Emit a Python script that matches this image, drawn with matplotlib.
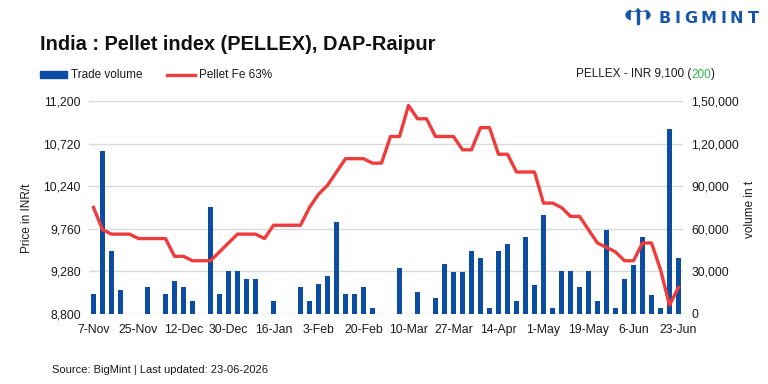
import matplotlib
matplotlib.use("Agg")
import matplotlib.pyplot as plt
from matplotlib.patches import Circle, Rectangle
from matplotlib.lines import Line2D

plt.rcParams['font.family'] = ['Liberation Sans', 'DejaVu Sans']

tick_labels = ["7-Nov", "25-Nov", "12-Dec", "30-Dec", "16-Jan", "3-Feb", "20-Feb",
               "10-Mar", "27-Mar", "14-Apr", "1-May", "19-May", "6-Jun", "23-Jun"]

volume = [14000, 115000, 44500, 17000, 0, 0, 19000, 0, 14000, 23300,
          19000, 9200, 0, 75600, 14000, 30000, 30000, 24700, 24700, 0,
          9200, 0, 0, 19000, 9200, 21200, 26800, 65000, 14000, 14000,
          19000, 4200, 0, 0, 32500, 0, 15500, 0, 11300, 35300,
          29700, 29700, 44500, 39600, 4200, 44500, 49500, 9200, 54400, 20500,
          70000, 4200, 30000, 30000, 19000, 30000, 9200, 59300, 4200, 24700,
          34600, 54400, 13400, 4200, 130000, 39600]

price = [10000, 9750, 9700, 9700, 9700, 9650, 9650, 9650, 9650, 9450,
         9450, 9400, 9400, 9400, 9500, 9600, 9700, 9700, 9700, 9650,
         9800, 9800, 9800, 9800, 10000, 10150, 10250, 10400, 10550, 10550,
         10550, 10500, 10500, 10800, 10800, 11150, 11000, 11000, 10800, 10800,
         10800, 10650, 10650, 10900, 10900, 10600, 10600, 10400, 10400, 10400,
         10050, 10050, 10000, 9900, 9900, 9750, 9600, 9550, 9500, 9400,
         9400, 9600, 9600, 9300, 8900, 9100]

left_ticks = [8800, 9280, 9760, 10240, 10720, 11200]
right_ticks = [0, 30000, 60000, 90000, 120000, 150000]

BLUE = "#0A4DA2"
RED = "#EE3B3B"
GRID = "#D9D9D9"
TXT = "#1A1A1A"
W, H = 768, 384

def indian(v):
    s = str(int(v))
    if len(s) <= 3:
        return s
    last3 = s[-3:]
    rest = s[:-3]
    parts = []
    while len(rest) > 2:
        parts.insert(0, rest[-2:])
        rest = rest[:-2]
    if rest:
        parts.insert(0, rest)
    return ",".join(parts) + "," + last3

def fx(px):
    return px / W

def fy(py):
    return 1 - py / H

fig = plt.figure(figsize=(7.68, 3.84), dpi=100)
fig.patch.set_facecolor("white")
ax2 = fig.add_axes([fx(89), fy(314), 594 / W, 213 / H])
ax = ax2.twinx()

x = list(range(len(volume)))
ax2.bar(x, volume, width=0.52, color=BLUE, zorder=3)
ax2.set_ylim(0, 150000)
ax2.set_yticks(right_ticks)
ax2.set_xlim(-0.5, len(volume) - 0.5)
ax2.grid(axis='y', color=GRID, linewidth=1, zorder=0)
ax2.set_axisbelow(True)

ax.plot(x, price, color=RED, linewidth=2.4, zorder=5)
ax.set_ylim(8800, 11200)
ax.set_yticks(left_ticks)

ax.yaxis.tick_left()
ax2.yaxis.tick_right()
ax.set_yticklabels([indian(v) for v in left_ticks], fontsize=8.8, color=TXT)
ax2.set_yticklabels([indian(v) for v in right_ticks], fontsize=8.8, color=TXT)

ax2.set_xticks(x[::5])
ax2.set_xticklabels(tick_labels, fontsize=8.8, color=TXT)

for a in (ax, ax2):
    for s in a.spines.values():
        s.set_visible(False)
    a.tick_params(length=0, pad=6)
ax2.tick_params(axis='x', pad=7)

fig.text(fx(27), fy(218), "Price in INR/t", fontsize=8.5, color=TXT, rotation=90,
         va='center', ha='center')
fig.text(fx(750), fy(209), "volume in t", fontsize=8.5, color=TXT, rotation=90,
         va='center', ha='center')

# Title
fig.text(fx(40), fy(45), "India : Pellet index (PELLEX), DAP-Raipur", fontsize=14.4,
         fontweight='bold', color="#111111", va='center', ha='left')

# Legend
fig.patches.append(Rectangle((fx(40), fy(78)), 27 / W, 7 / H, transform=fig.transFigure,
                             color=BLUE))
fig.text(fx(71), fy(74.5), "Trade volume", fontsize=8.5, color=TXT, va='center')
fig.lines.append(Line2D([fx(167), fx(195)], [fy(74.5), fy(74.5)], transform=fig.transFigure,
                        color=RED, linewidth=2.4))
fig.text(fx(199), fy(74.5), "Pellet Fe 63%", fontsize=8.5, color=TXT, va='center')

t1 = fig.text(fx(715), fy(74.5), ")", fontsize=8.5, color=TXT, va='center', ha='right')
fig.canvas.draw()
r = fig.canvas.get_renderer()
bb = t1.get_window_extent(r)
t2 = fig.text(bb.x0 / W, fy(74.5), "200", fontsize=8.5, color="#2BB04A", va='center', ha='right')
bb2 = t2.get_window_extent(r)
fig.text(bb2.x0 / W, fy(74.5), "PELLEX - INR 9,100 (", fontsize=8.5, color=TXT,
         va='center', ha='right')

# Source
fig.text(fx(52), fy(370), "Source: BigMint | Last updated: 23-06-2026", fontsize=8,
         color=TXT, va='center')

# Logo
LOGO = "#1556A8"
lx, ly = 638, 15
fig.patches.append(Circle((fx(lx), fy(ly)), 12 / W, transform=fig.transFigure, color=LOGO))
for dx in (-4.5, 4.5):
    fig.patches.append(Circle((fx(lx + dx), fy(ly - 6)), 2.6 / W, transform=fig.transFigure,
                              color="white"))
    fig.patches.append(Rectangle((fx(lx + dx - 2.2), fy(ly + 8)), 4.4 / W, 11 / H,
                                 transform=fig.transFigure, color="white"))
fig.patches.append(Rectangle((fx(lx - 1), fy(ly + 9)), 2 / W, 14 / H,
                             transform=fig.transFigure, color=LOGO))
for ch, cx in zip("BIGMINT", [664.5, 677.5, 691, 708.5, 723, 736.5, 753]):
    fig.text(fx(cx), fy(18.5), ch, fontsize=11.5, fontweight='bold', color=LOGO,
             va='center', ha='center', family='DejaVu Sans')

fig.savefig("out.png", dpi=100, facecolor="white")
